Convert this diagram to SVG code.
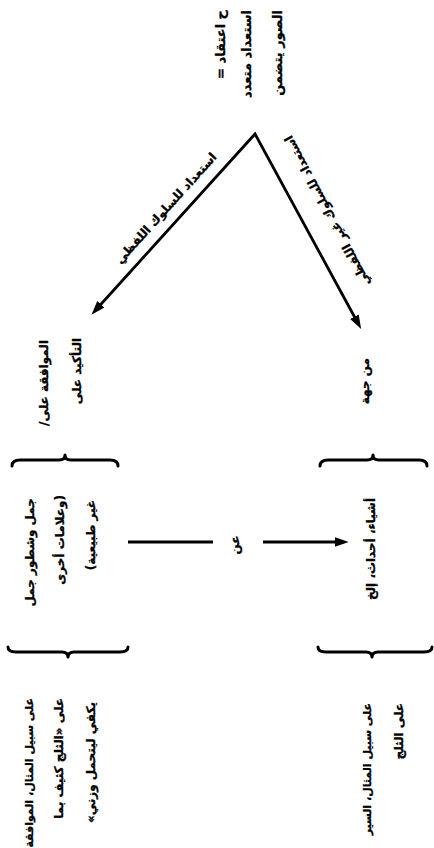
<svg xmlns="http://www.w3.org/2000/svg" width="434" height="848" viewBox="0 0 434 848">
<style>
text{font-family:"DejaVu Sans",sans-serif;font-weight:bold;font-size:12px;fill:#000;stroke:#000;stroke-width:0.3;}
.t{direction:rtl;text-anchor:start;}
.big{font-size:13px;}
.ln{fill:none;stroke:#000;stroke-width:2.8;}
.br{fill:none;stroke:#000;stroke-width:3;stroke-linecap:round;stroke-linejoin:round;}
</style>
<defs>
<marker id="ah" markerUnits="userSpaceOnUse" markerWidth="14" markerHeight="10" viewBox="0 0 13 9" refX="4" refY="4.5" orient="auto-start-reverse">
<path d="M0,0 L13,4.5 L0,9 z" fill="#000"/>
</marker>
</defs>
<rect width="434" height="848" fill="#fff"/>
<g id="root">
<text class="t big" transform="translate(225,10) rotate(-90)">ح اعتقاد =</text>
<text class="t big" transform="translate(251,10) rotate(-90)">استعداد متعدد</text>
<text class="t big" transform="translate(282,10) rotate(-90)">الصور يتضمن</text>
</g>
<g id="connectors">
<path class="ln" d="M98,307.5 L255,134 L356.5,320.5" marker-start="url(#ah)" marker-end="url(#ah)"/>
<path class="ln" d="M128,542 L213,542"/>
<path class="ln" d="M263,542 L339,542" marker-end="url(#ah)"/>
<text class="t" transform="translate(169,211) rotate(-47.9)" style="text-anchor:middle">استعداد للسلوك اللفظي</text>
<text class="t" transform="translate(331,209) rotate(-118.1)" style="text-anchor:middle">استعداد للسلوك غير اللفظي</text>
<text class="t" transform="translate(239,545) rotate(-90)" style="text-anchor:middle">عن</text>
</g>
<g id="verbal">
<text class="t" transform="translate(48,340) rotate(-90)">الموافقة على/</text>
<text class="t" transform="translate(81,338) rotate(-90)">التأكيد على</text>
</g>
<g id="nonverbal">
<text class="t" transform="translate(369,358) rotate(-90)">من جهة</text>
</g>
<g id="signs">
<path class="br" d="M12,466 Q12,460 20,460 L59,460 Q65,460 65,455 Q65,460 71,460 L110,460 Q118,460 118,466"/>
<text class="t" transform="translate(34,498) rotate(-90)">جمل وشطور جمل</text>
<text class="t" transform="translate(64,495) rotate(-90)">(وعلامات أخرى</text>
<text class="t" transform="translate(95,500) rotate(-90)">غير طبيعية)</text>
<path class="br" d="M8,647 Q8,652 16,652 L62,652 Q68,652 68,657 Q68,652 74,652 L120,652 Q128,652 128,647"/>
</g>
<g id="things">
<path class="br" d="M320,466 Q320,460 328,460 L367,460 Q373,460 373,455 Q373,460 379,460 L419,460 Q427,460 427,466"/>
<text class="t" transform="translate(375,498) rotate(-90)">أشياء، أحداث، إلخ</text>
<path class="br" d="M318,647 Q318,652 326,652 L366,652 Q372,652 372,657 Q372,652 378,652 L424,652 Q432,652 432,647"/>
</g>
<g id="example-verbal">
<text class="t" transform="translate(33,698) rotate(-90)" style="font-size:11px">على سبيل المثال، الموافقة</text>
<text class="t" transform="translate(63,698) rotate(-90)">على «الثلج كثيف بما</text>
<text class="t" transform="translate(95,702) rotate(-90)">يكفي ليتحمل وزني»</text>
</g>
<g id="example-nonverbal">
<text class="t" transform="translate(371,703) rotate(-90)" style="font-size:11px">على سبيل المثال، السير</text>
<text class="t" transform="translate(403,703) rotate(-90)">على الثلج</text>
</g>
</svg>
